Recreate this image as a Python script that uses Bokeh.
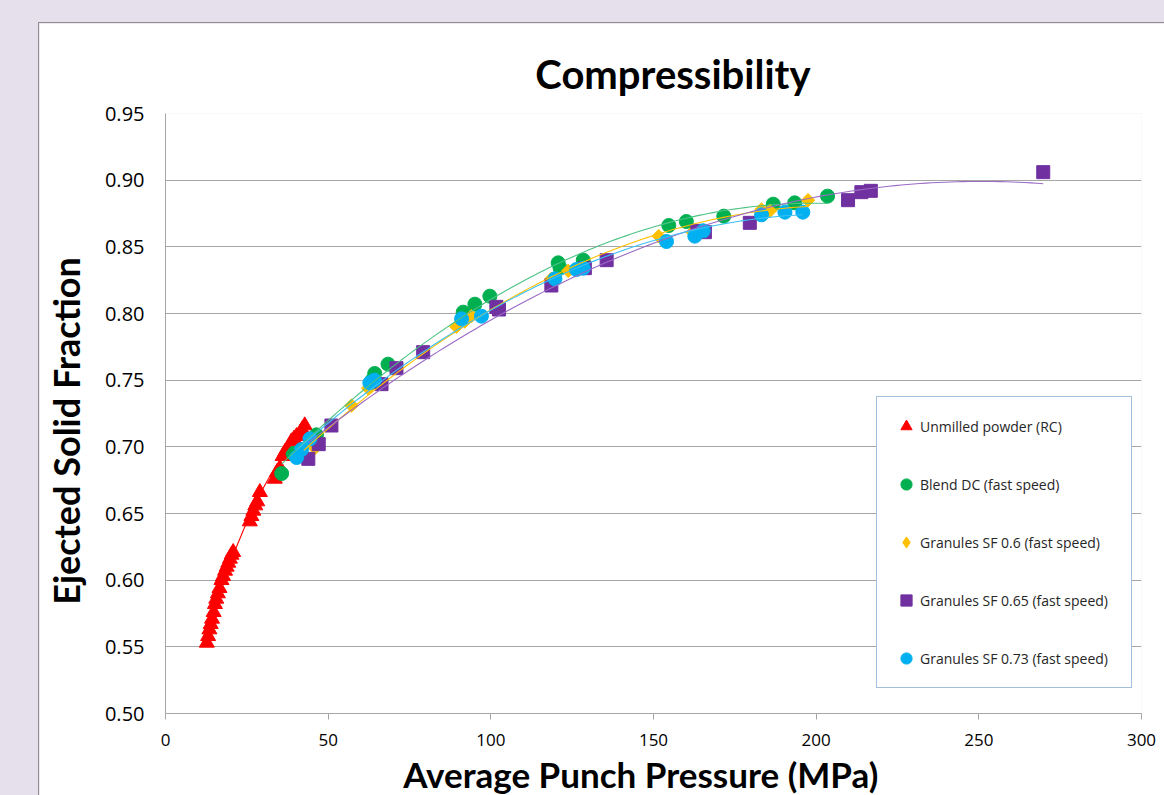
import numpy as np
from bokeh.plotting import figure
from bokeh.models import Range1d, FixedTicker, Legend, LegendItem, NumeralTickFormatter
from bokeh.embed import file_html
from bokeh.resources import INLINE

# ---- data ----
red_x = [12.7, 13.1, 13.5, 13.9, 14.3, 14.8, 15.2, 15.6, 16.1, 16.6, 17.2, 17.7, 18.3, 18.8,
         19.3, 19.8, 20.3, 20.8, 25.9, 26.4, 27.0, 27.6, 28.2, 29.0, 33.6, 34.3, 35.2, 36.0,
         36.7, 37.5, 38.7, 39.5, 40.3, 41.5, 42.0, 42.8]
red_y = [0.553, 0.558, 0.563, 0.567, 0.571, 0.576, 0.582, 0.586, 0.590, 0.594, 0.600, 0.603,
         0.607, 0.610, 0.613, 0.616, 0.619, 0.621, 0.644, 0.648, 0.652, 0.656, 0.659, 0.666,
         0.676, 0.681, 0.684, 0.693, 0.696, 0.698, 0.704, 0.706, 0.708, 0.711, 0.713, 0.716]

green_x = [35.7, 39.2, 46.4, 63.5, 64.3, 68.4, 91.5, 95.1, 99.7, 120.7, 121.3, 128.4, 154.7,
           160.1, 171.6, 186.8, 193.4, 203.5]
green_y = [0.680, 0.695, 0.709, 0.750, 0.755, 0.762, 0.801, 0.807, 0.813, 0.838, 0.834, 0.840,
           0.866, 0.869, 0.873, 0.882, 0.883, 0.888]

yellow_x = [42.5, 45.9, 57.2, 62.3, 89.4, 92.0, 94.0, 118.6, 123.8, 126.5, 151.6, 162.0, 183.2,
            185.8, 197.5]
yellow_y = [0.694, 0.699, 0.731, 0.744, 0.790, 0.794, 0.798, 0.826, 0.832, 0.833, 0.858, 0.861,
            0.878, 0.877, 0.885]

purple_x = [43.9, 47.1, 51.0, 66.4, 71.0, 79.2, 101.7, 102.5, 118.6, 128.9, 135.6, 163.5, 165.8,
            179.6, 209.8, 213.9, 216.8, 269.8]
purple_y = [0.691, 0.702, 0.716, 0.747, 0.759, 0.771, 0.805, 0.803, 0.821, 0.834, 0.840, 0.862,
            0.861, 0.868, 0.885, 0.891, 0.892, 0.906]

cyan_x = [40.3, 41.8, 44.4, 62.8, 64.2, 91.0, 97.1, 119.7, 126.3, 128.4, 154.0, 162.7, 165.3,
          183.2, 190.4, 195.9]
cyan_y = [0.692, 0.698, 0.706, 0.748, 0.750, 0.796, 0.798, 0.826, 0.833, 0.834, 0.854, 0.858,
          0.862, 0.874, 0.876, 0.876]

series_names = ["Unmilled powder (RC)", "Blend DC (fast speed)", "Granules SF 0.6 (fast speed)",
                "Granules SF 0.65 (fast speed)", "Granules SF 0.73 (fast speed)"]
x_ticks = [0, 50, 100, 150, 200, 250, 300]
y_ticks = [0.50, 0.55, 0.60, 0.65, 0.70, 0.75, 0.80, 0.85, 0.90, 0.95]

NB = "\u00a0"

# ---- figure ----
p = figure(width=1126, height=790, output_backend="svg", toolbar_location=None,
           x_range=Range1d(0, 300), y_range=Range1d(0.5, 0.95),
           min_border_left=126, min_border_right=24, min_border_top=90, min_border_bottom=100,
           title=NB * 4 + "Compressibility")
p.margin = (22, 0, 0, 38)
p.styles = {"border-left": "1px solid #8E8E8E", "border-top": "1px solid #8E8E8E"}
p.background_fill_color = "white"
p.border_fill_color = "white"
p.outline_line_color = None

p.title.align = "center"
p.title.text_font = "Lato"
p.title.text_font_style = "bold"
p.title.text_font_size = "40px"
p.title.text_color = "black"
p.title.standoff = 31

p.xgrid.visible = False
p.ygrid.ticker = FixedTicker(ticks=y_ticks)
p.ygrid.grid_line_color = "#A6A6A6"
p.ygrid.grid_line_width = 1

p.xaxis.ticker = FixedTicker(ticks=x_ticks)
p.xaxis.axis_line_color = "#A6A6A6"
p.xaxis.major_tick_line_color = "#A6A6A6"
p.xaxis.major_tick_out = 6
p.xaxis.major_tick_in = 0
p.xaxis.minor_tick_line_color = None
p.xaxis.major_label_text_font = "Open Sans"
p.xaxis.major_label_text_font_size = "17px"
p.xaxis.major_label_text_color = "black"
p.xaxis.major_label_standoff = 14
p.xaxis.axis_label = "Average Punch Pressure (MPa)" + NB * 3
p.xaxis.axis_label_text_font = "Lato"
p.xaxis.axis_label_text_font_style = "bold"
p.xaxis.axis_label_text_font_size = "35px"
p.xaxis.axis_label_text_color = "black"
p.xaxis.axis_label_standoff = 4

p.yaxis.ticker = FixedTicker(ticks=y_ticks)
p.yaxis.formatter = NumeralTickFormatter(format="0.00")
p.yaxis.axis_line_color = "#A6A6A6"
p.yaxis.major_tick_line_color = None
p.yaxis.major_tick_out = 0
p.yaxis.minor_tick_line_color = None
p.yaxis.major_label_text_font = "Open Sans"
p.yaxis.major_label_text_font_size = "20px"
p.yaxis.major_label_text_color = "black"
p.yaxis.major_label_standoff = 21
p.yaxis.axis_label = "Ejected Solid Fraction" + NB * 4
p.yaxis.axis_label_text_font = "Lato"
p.yaxis.axis_label_text_font_style = "bold"
p.yaxis.axis_label_text_font_size = "36px"
p.yaxis.axis_label_text_color = "black"
p.yaxis.axis_label_standoff = 14

colors = ["#FF0000", "#00B050", "#FFC000", "#7030A0", "#00B0F0"]
line_colors = ["#FF0000", "#4CC285", "#FFC000", "#9B6BC6", "#3CC0F2"]
markers = ["triangle", "circle", "square", "square", "circle"]
angles = [0, 0, np.pi / 4, 0, 0]
sizes = [15, 14, 9.5, 13, 14]
data = [(red_x, red_y), (green_x, green_y), (yellow_x, yellow_y), (purple_x, purple_y), (cyan_x, cyan_y)]

legend_renderers = []
for i, ((xs, ys), c, m, a, s) in enumerate(zip(data, colors, markers, angles, sizes)):
    if i == 2:
        # diamond-shaped legend glyph for the granules SF 0.6 series (drawn beneath the rotated squares)
        lr = p.scatter(xs, ys, marker="diamond", size=9, fill_color=c, line_color=c)
    r = p.scatter(xs, ys, marker=m, size=s, angle=a, fill_color=c, line_color=c, line_width=1)
    legend_renderers.append(lr if i == 2 else r)

# second-order polynomial trend lines fitted to each series
for (xs, ys), lc in zip(data, line_colors):
    coef = np.polyfit(xs, ys, 2)
    tx = np.linspace(min(xs), max(xs), 120)
    p.line(tx, np.polyval(coef, tx), line_color=lc, line_width=1.1)

legend = Legend(items=[LegendItem(label=n, renderers=[r]) for n, r in zip(series_names, legend_renderers)],
                location=(711, 25), orientation="vertical",
                glyph_width=28, glyph_height=28, spacing=30, padding=15, label_standoff=0,
                label_width=196,
                label_text_font="Open Sans", label_text_font_size="14px", label_text_color="#262626",
                border_line_color="#4A7EBB", border_line_width=1.5,
                background_fill_color="white", background_fill_alpha=1.0)
p.add_layout(legend)

html = file_html(p, INLINE)
html = html.replace("<head>", "<head><style>html, body { background: #E6E0EC; overflow: hidden; }</style>", 1)
open("out.html", "w").write(html)
